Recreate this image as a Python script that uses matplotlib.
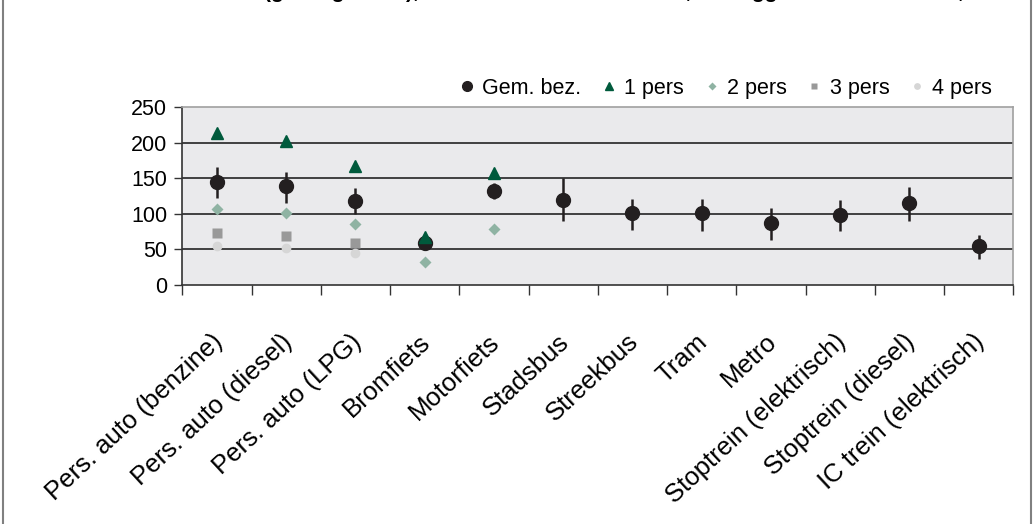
import numpy as np
import matplotlib
matplotlib.use("Agg")
import matplotlib.pyplot as plt
from matplotlib.lines import Line2D
import matplotlib.transforms as mtransforms

plt.rcParams['font.family'] = ['Liberation Sans', 'DejaVu Sans']

# Data (g/reizigerskm)
categories = ["Pers. auto (benzine)", "Pers. auto (diesel)", "Pers. auto (LPG)",
              "Bromfiets", "Motorfiets", "Stadsbus", "Streekbus", "Tram", "Metro",
              "Stoptrein (elektrisch)", "Stoptrein (diesel)", "IC trein (elektrisch)"]
gem_bez = [145, 139, 118, 59, 132, 120, 101, 101, 87, 99, 115, 55]
gem_hoog = [166, 159, 136, 64, 143, 150, 121, 121, 108, 120, 138, 70]
gem_laag = [123, 116, 100, 52, 121, 90, 78, 76, 64, 76, 90, 36]
pers_1 = [214, 202, 167, 67, 158]
pers_2 = [107, 102, 86, 32, 79]
pers_3 = [73, 69, 59.5]
pers_4 = [55, 52.5, 45.5]
yticks = [0, 50, 100, 150, 200, 250]

fig = plt.figure(figsize=(10.34, 5.24), dpi=100)
ax = fig.add_axes([0.1763, 0.4561, 0.8037, 0.3391])
ax.set_facecolor('#eaeaec')

x = np.arange(len(categories)) + 0.5

# grid lines
for v in yticks[1:-1]:
    ax.axhline(v, color='#333333', lw=1.3, zorder=1)

# error bars for the average occupancy
ax.vlines(x, gem_laag, gem_hoog, color='#231f20', lw=1.8, zorder=3)

ax.plot(x, gem_bez, 'o', color='#231f20', ms=10, zorder=4, label='Gem. bez.')
ax.plot(x[:len(pers_1)], pers_1, '^', color='#005a3c', ms=8, zorder=4, label='1 pers')
ax.plot(x[:len(pers_2)], pers_2, 'D', color='#8fb3a3', ms=6, mec='none', zorder=4, label='2 pers')
ax.plot(x[:len(pers_3)], pers_3, 's', color='#999999', ms=6.5, mec='none', zorder=4, label='3 pers')
ax.plot(x[:len(pers_4)], pers_4, 'o', color='#d6d6d6', ms=7, mec='none', zorder=4, label='4 pers')

ax.set_xlim(0, len(categories))
ax.set_ylim(0, 250)
ax.set_yticks(yticks)
ax.tick_params(axis='y', labelsize=15.5, length=6, width=1, color='#333333', pad=5)

# category boundaries as major ticks, labels on minor ticks
ax.set_xticks(np.arange(len(categories) + 1))
ax.set_xticklabels([])
ax.tick_params(axis='x', which='major', length=7, width=1, color='#333333')
ax.set_xticks(x, minor=True)
ax.set_xticklabels(categories, minor=True, rotation=43, ha='right',
                   rotation_mode='anchor', fontsize=18.5)
ax.tick_params(axis='x', which='minor', length=0, pad=32)
offset = mtransforms.ScaledTranslation(-6 / 100, 0, fig.dpi_scale_trans)
for lab in ax.get_xticklabels(minor=True):
    lab.set_transform(lab.get_transform() + offset)

for s in ['left', 'bottom']:
    ax.spines[s].set_color('#333333')
    ax.spines[s].set_linewidth(1.2)
for s in ['top', 'right']:
    ax.spines[s].set_color('#a0a0a0')
    ax.spines[s].set_linewidth(1.2)

leg = ax.legend(loc='lower right', bbox_to_anchor=(0.985, 1.0), ncol=5,
                frameon=False, fontsize=15.5, handletextpad=0.2,
                columnspacing=0.8, markerscale=0.7, handlelength=1.0,
                borderaxespad=0)

# title, cut off at the top of the picture
fig.text(0.255, 1.0 + 1.5 / 524,
         "(g/reizigerskm), inclusief indirecte emissie, met liggende bandbreedte,",
         fontsize=15, fontweight='bold', ha='left', va='baseline')

# outer chart frame
fig.add_artist(Line2D([3 / 1034, 3 / 1034], [0, 1], transform=fig.transFigure,
                      color='#808080', lw=1.5))
fig.add_artist(Line2D([1031 / 1034, 1031 / 1034], [0, 1], transform=fig.transFigure,
                      color='#808080', lw=1.5))

fig.savefig('out.png', dpi=100)
